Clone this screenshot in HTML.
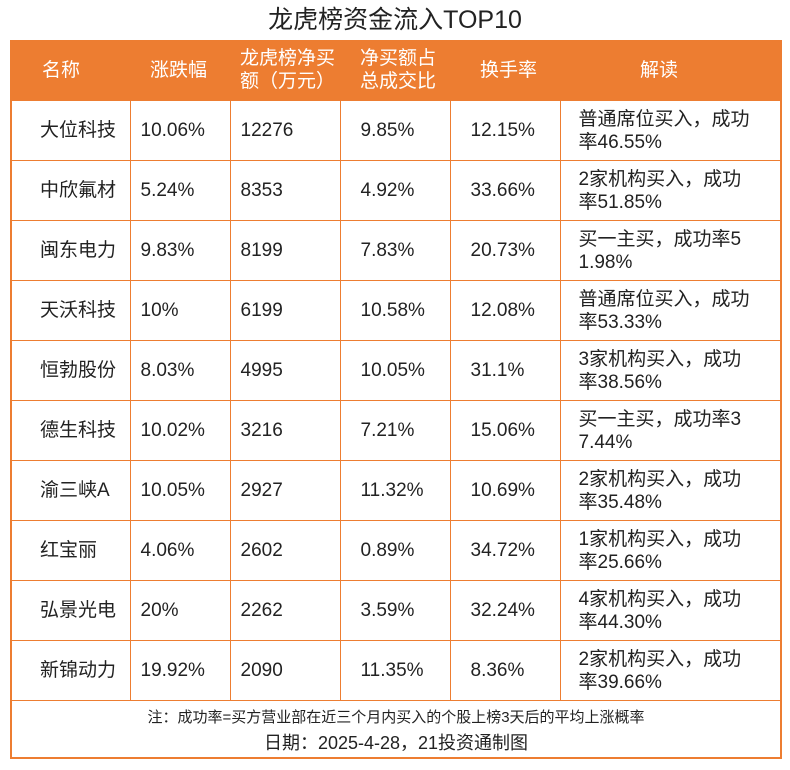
<!DOCTYPE html>
<html><head><meta charset="utf-8"><style>
body{margin:0;width:790px;height:770px;background:#fff;font-family:"Liberation Sans","Noto Sans CJK SC",sans-serif;color:#222;position:relative;overflow:hidden}
#title{position:absolute;left:0;width:790px;top:4px;text-align:center;font-size:25px;line-height:32px}
#box{position:absolute;left:10px;top:40px;width:768px;height:717px;border:2px solid #ED7D31;border-top:0}
table{border-collapse:collapse;width:768px;table-layout:fixed}
tr{height:60px}
th{background:#ED7D31;color:#fff;font-weight:normal;font-size:19px;height:60px;padding:0;line-height:23px;text-align:left}
td{border:1.5px solid #ED7D31;height:60px;box-sizing:border-box;padding:0 0 0 10px;font-size:19px;line-height:23px;text-align:left}
tr td:first-child{border-left:0;padding-left:28px}
tr td:last-child{border-right:0;padding-left:18px}
#foot{position:absolute;left:0;width:768px;top:666px;text-align:center}
</style></head><body>
<div id="title">龙虎榜资金流入TOP10</div>
<div id="box">
<table>
<colgroup><col style="width:118px"><col style="width:100px"><col style="width:110px"><col style="width:110px"><col style="width:110px"><col style="width:220px"></colgroup>
<tr>
<th style="padding-left:30px">名称</th><th style="padding-left:20px">涨跌幅</th><th style="padding-left:10px">龙虎榜净买<br>额（万元）</th><th style="padding-left:20px">净买额占<br>总成交比</th><th style="padding-left:30px">换手率</th><th style="padding-left:80px">解读</th></tr>
<tbody id="tb"></tbody>
</table>
<div id="foot"><div style="font-size:15px;line-height:24px">注：成功率=买方营业部在近三个月内买入的个股上榜3天后的平均上涨概率</div><div style="font-size:18px;line-height:26px">日期：2025-4-28，21投资通制图</div></div>
</div>
<script>
const names=["大位科技","中欣氟材","闽东电力","天沃科技","恒勃股份","德生科技","渝三峡A","红宝丽","弘景光电","新锦动力"];
const changes=["10.06%","5.24%","9.83%","10%","8.03%","10.02%","10.05%","4.06%","20%","19.92%"];
const netBuy=["12276","8353","8199","6199","4995","3216","2927","2602","2262","2090"];
const ratio=["9.85%","4.92%","7.83%","10.58%","10.05%","7.21%","11.32%","0.89%","3.59%","11.35%"];
const turnover=["12.15%","33.66%","20.73%","12.08%","31.1%","15.06%","10.69%","34.72%","32.24%","8.36%"];
const notes=["普通席位买入，成功<br>率46.55%","2家机构买入，成功<br>率51.85%","买一主买，成功率5<br>1.98%","普通席位买入，成功<br>率53.33%","3家机构买入，成功<br>率38.56%","买一主买，成功率3<br>7.44%","2家机构买入，成功<br>率35.48%","1家机构买入，成功<br>率25.66%","4家机构买入，成功<br>率44.30%","2家机构买入，成功<br>率39.66%"];
const tb=document.getElementById('tb');
names.forEach((n,i)=>{
const tr=document.createElement('tr');


[n,changes[i],netBuy[i],ratio[i],turnover[i],notes[i]].forEach((v,j)=>{
const td=document.createElement('td');


td.innerHTML=v;
if(j==3||j==4)td.style.paddingLeft='20px';
tr.appendChild(td);});
tb.appendChild(tr);});
</script>
</body></html>
